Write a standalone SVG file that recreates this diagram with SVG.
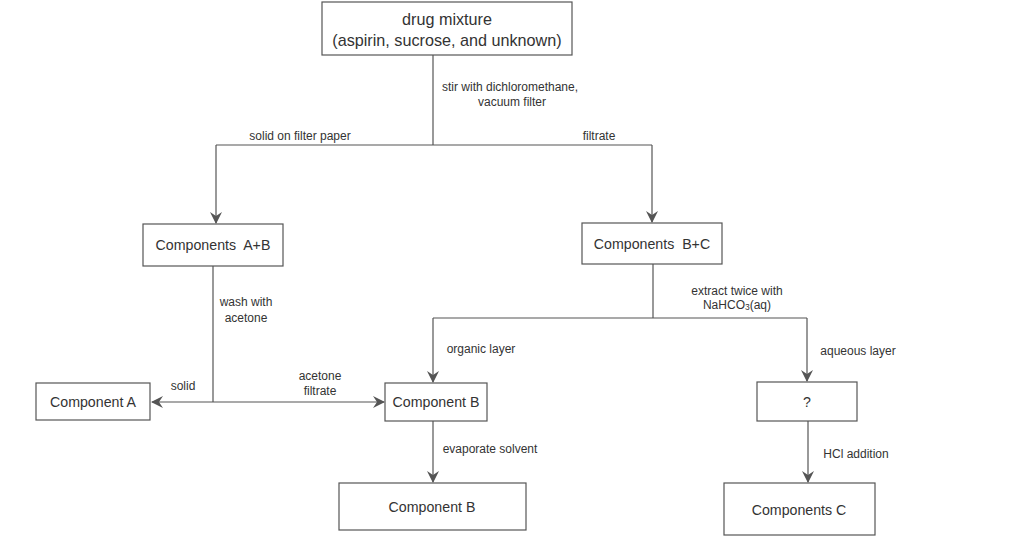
<svg xmlns="http://www.w3.org/2000/svg" width="1024" height="555" viewBox="0 0 1024 555">
<style>
.box{fill:#fff;stroke:#555;stroke-width:1.2}
.nt{font-family:"Liberation Sans",Arial,sans-serif;font-size:14.2px;fill:#333;text-anchor:middle}
.big{font-size:16.2px}
.lb{font-family:"Liberation Sans",Arial,sans-serif;font-size:12px;fill:#333;text-anchor:middle}
.ln{fill:none;stroke:#555;stroke-width:1.2}
</style>
<defs>
<marker id="ah" viewBox="0 0 12 12" refX="11" refY="6" markerWidth="12" markerHeight="12" markerUnits="userSpaceOnUse" orient="auto">
<path d="M0,0 L12,6 L0,12 L4,6 Z" fill="#555"/>
</marker>
</defs>
<rect width="1024" height="555" fill="#fff"/>
<g id="connectors">
<path class="ln" d="M433,55 V145"/>
<path class="ln" d="M216,145 H652"/>
<path class="ln" d="M216,145 V223" marker-end="url(#ah)"/>
<path class="ln" d="M652,145 V222" marker-end="url(#ah)"/>
<path class="ln" d="M213,266 V402"/>
<path class="ln" d="M213,402 H152" marker-end="url(#ah)"/>
<path class="ln" d="M213,402 H384" marker-end="url(#ah)"/>
<path class="ln" d="M653,264 V318"/>
<path class="ln" d="M433,318 H807"/>
<path class="ln" d="M433,318 V382" marker-end="url(#ah)"/>
<path class="ln" d="M807,318 V381" marker-end="url(#ah)"/>
<path class="ln" d="M433,421 V482" marker-end="url(#ah)"/>
<path class="ln" d="M808,421 V482" marker-end="url(#ah)"/>
<text class="lb" x="510" y="91">stir with dichloromethane,</text>
<text class="lb" x="512" y="106">vacuum filter</text>
<text class="lb" x="300" y="140">solid on filter paper</text>
<text class="lb" x="599" y="140">filtrate</text>
<text class="lb" x="246" y="306">wash with</text>
<text class="lb" x="246" y="322">acetone</text>
<text class="lb" x="183" y="390">solid</text>
<text class="lb" x="320" y="380">acetone</text>
<text class="lb" x="320" y="395">filtrate</text>
<text class="lb" x="737" y="295">extract twice with</text>
<text class="lb" x="737" y="309">NaHCO<tspan font-size="8.5" dy="1">3</tspan><tspan dy="-1">(aq)</tspan></text>
<text class="lb" x="481" y="353">organic layer</text>
<text class="lb" x="858" y="355">aqueous layer</text>
<text class="lb" x="490" y="453">evaporate solvent</text>
<text class="lb" x="856" y="458">HCl addition</text>
</g>
<g id="drug-mixture">
<rect class="box" x="322" y="2" width="250" height="53"/>
<text class="nt big" x="447" y="25">drug mixture</text>
<text class="nt big" x="447" y="46">(aspirin, sucrose, and unknown)</text>
</g>
<g id="components-ab">
<rect class="box" x="143" y="224" width="140" height="42"/>
<text class="nt" x="213" y="250">Components&#160; A+B</text>
</g>
<g id="components-bc">
<rect class="box" x="582" y="223" width="140" height="41"/>
<text class="nt" x="652" y="249">Components&#160; B+C</text>
</g>
<g id="component-a">
<rect class="box" x="36" y="383" width="114" height="37"/>
<text class="nt" x="93" y="407">Component A</text>
</g>
<g id="component-b-mid">
<rect class="box" x="385" y="383" width="102" height="38"/>
<text class="nt" x="436" y="407">Component B</text>
</g>
<g id="unknown">
<rect class="box" x="757" y="382" width="100" height="39"/>
<text class="nt" x="807" y="407">?</text>
</g>
<g id="component-b-final">
<rect class="box" x="339" y="483" width="187" height="47"/>
<text class="nt" x="432" y="512">Component B</text>
</g>
<g id="components-c">
<rect class="box" x="724" y="483" width="151" height="52"/>
<text class="nt" x="799" y="515">Components C</text>
</g>
</svg>
